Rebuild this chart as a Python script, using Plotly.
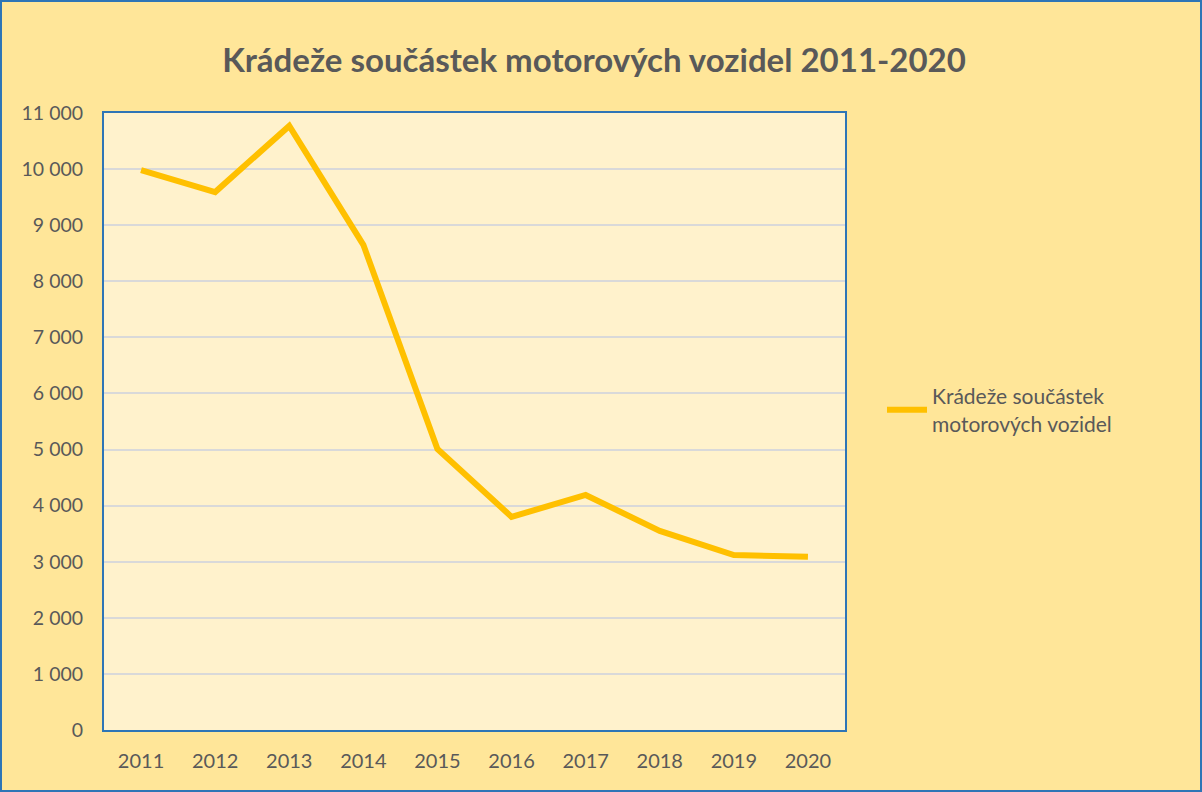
import plotly.graph_objects as go

years = ["2011", "2012", "2013", "2014", "2015", "2016", "2017", "2018", "2019", "2020"]
thefts = [9980, 9590, 10770, 8650, 5010, 3800, 4190, 3550, 3120, 3090]
series_name = "Krádeže součástek<br>motorových vozidel"
title = "Krádeže součástek motorových vozidel 2011-2020"
y_ticks = list(range(0, 11001, 1000))
y_labels = [f"{v:,}".replace(",", " ") for v in y_ticks]

W, H = 1202, 792
L, R, T, B = 104, 357, 113, 62
pw, ph = W - L - R, H - T - B

fig = go.Figure()
fig.add_trace(go.Scatter(x=years, y=thefts, mode="lines", name=series_name,
                         line=dict(color="#FFC000", width=6)))

fig.update_layout(
    width=W, height=H,
    margin=dict(l=L, r=R, t=T, b=B),
    paper_bgcolor="#FFE699",
    plot_bgcolor="#FFF2CC",
    font=dict(family="Lato, Open Sans, sans-serif", color="#595959", size=19),
    title=dict(text="<b>" + title + "</b>", x=0.4942, xanchor="center", y=0.924, yanchor="middle",
               font=dict(size=33, color="#595959")),
    showlegend=True,
    legend=dict(x=(882 - L) / pw, xanchor="left", y=(730 - 410) / ph, yanchor="middle",
                bgcolor="rgba(0,0,0,0)", font=dict(size=21, color="#595959"), itemwidth=40),
    xaxis=dict(type="category", range=[-0.5, 9.5], showgrid=False, ticks="",
               showline=True, linecolor="#2E75B6", linewidth=2, mirror=True,
               tickfont=dict(size=20, color="#595959"), ticklabelstandoff=12),
    yaxis=dict(range=[0, 11000], tickvals=y_ticks, ticktext=y_labels, showgrid=True,
               gridcolor="#D9D9D9", gridwidth=2, zeroline=False, ticks="",
               showline=True, linecolor="#2E75B6", linewidth=2, mirror=True,
               tickfont=dict(size=19.5, color="#595959"), ticklabelstandoff=15),
    shapes=[dict(type="rect", xref="paper", yref="paper",
                 x0=(1 - L) / pw, x1=(W - 1 - L) / pw,
                 y0=(H - B - (H - 1)) / ph, y1=(H - B - 1) / ph,
                 line=dict(color="#2E75B6", width=2), fillcolor="rgba(0,0,0,0)", layer="above")],
)

fig.write_html("out.html", config={"displayModeBar": False},
               post_script="document.body.style.margin='0';document.body.style.overflow='hidden';")
